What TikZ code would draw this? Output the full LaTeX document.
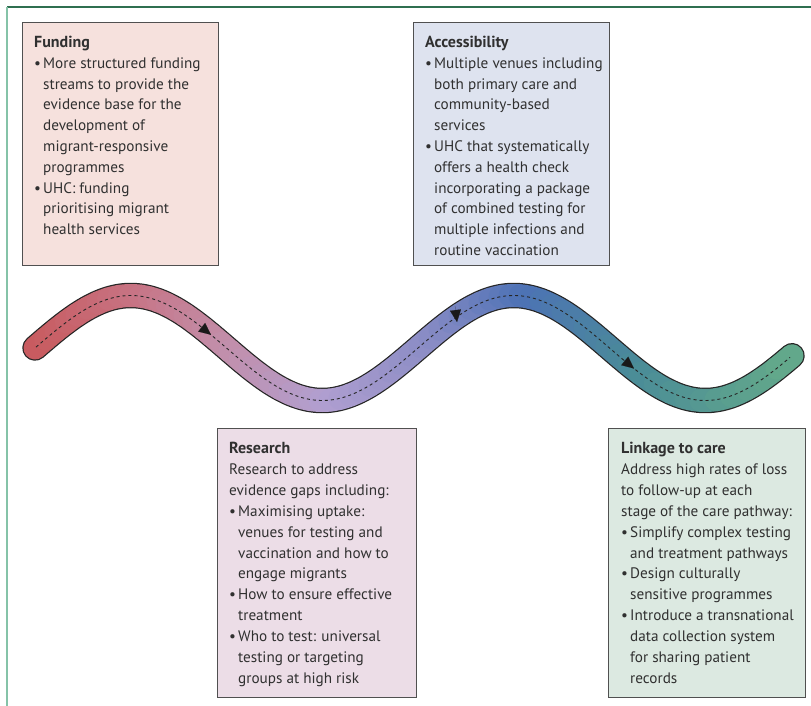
\documentclass[tikz,border=0pt]{standalone}
\usepackage{fontspec}
\setmainfont{PT Sans}
\usetikzlibrary{arrows.meta}

\definecolor{fundfill}{HTML}{F6E1DD}
\definecolor{accfill}{HTML}{DEE3EF}
\definecolor{resfill}{HTML}{ECDDE7}
\definecolor{linkfill}{HTML}{DCE9E1}
\definecolor{boxline}{HTML}{505050}
\definecolor{textgray}{HTML}{303030}
\definecolor{topgreen}{HTML}{2F6F50}
\definecolor{sidegreen}{HTML}{85C3A8}
\definecolor{wa}{HTML}{C85A5E}
\definecolor{wb}{HTML}{C77383}
\definecolor{wc}{HTML}{C28EAA}
\definecolor{wd}{HTML}{B19FD0}
\definecolor{we}{HTML}{8C8DC6}
\definecolor{wf}{HTML}{4D72B5}
\definecolor{wg}{HTML}{4A8B98}
\definecolor{wh}{HTML}{63A98A}

\newcommand{\bl}{\makebox[9pt][l]{\textbullet}}
\newcommand{\hg}{\hspace*{9pt}}
\newcommand{\ttl}[1]{{\fontsize{16}{20.8}\selectfont\textbf{#1}}}

\tikzset{
	panel/.style={draw=boxline, line width=1.4pt, anchor=north west, inner sep=0pt},
	paneltext/.style={anchor=north west, align=left, inner sep=0pt, text=textgray, font=\fontsize{15.2}{20.8}\selectfont},
	flowtip/.style={-{Triangle[length=12pt,width=11pt]}, line width=0.1pt, black!90},
	declare function={wy(\x)=348-52.5*sin(0.939948*(\x-35));}
}

\begin{document}
\begin{tikzpicture}[x=1pt,y=-1pt]
	\useasboundingbox (0,0) rectangle (811,706);

	\draw[topgreen, line width=1.8pt] (7,7) -- (811,7);
	\draw[sidegreen, line width=1.8pt] (7,7) -- (7,706);

	\node[panel, fill=fundfill, minimum width=196pt, minimum height=243pt] (funding) at (22,22) {};
	\node[panel, fill=accfill, minimum width=196pt, minimum height=243pt] (access) at (413,22) {};
	\node[panel, fill=resfill, minimum width=199pt, minimum height=269pt] (research) at (217,428) {};
	\node[panel, fill=linkfill, minimum width=197pt, minimum height=269pt] (linkage) at (608,428) {};

	\node[paneltext] (fundingtext) at ([shift={(12,14)}]funding.north west) {%
		\ttl{Funding}\\
		\bl More structured funding\\
		\hg streams to provide the\\
		\hg evidence base for the\\
		\hg development of\\
		\hg migrant-responsive\\
		\hg programmes\\
		\bl UHC: funding\\
		\hg prioritising migrant\\
		\hg health services};

	\node[paneltext] (accesstext) at ([shift={(12,14)}]access.north west) {%
		\ttl{Accessibility}\\
		\bl Multiple venues including\\
		\hg both primary care and\\
		\hg community-based\\
		\hg services\\
		\bl UHC that systematically\\
		\hg offers a health check\\
		\hg incorporating a package\\
		\hg of combined testing for\\
		\hg multiple infections and\\
		\hg routine vaccination};

	\node[paneltext, font=\fontsize{15.2}{20.9}\selectfont] (researchtext) at ([shift={(12,14)}]research.north west) {%
		\ttl{Research}\\
		Research to address\\
		evidence gaps including:\\
		\bl Maximising uptake:\\
		\hg venues for testing and\\
		\hg vaccination and how to\\
		\hg engage migrants\\
		\bl How to ensure effective\\
		\hg treatment\\
		\bl Who to test: universal\\
		\hg testing or targeting\\
		\hg groups at high risk};

	\node[paneltext, font=\fontsize{15.2}{20.9}\selectfont] (linkagetext) at ([shift={(13,14)}]linkage.north west) {%
		\ttl{Linkage to care}\\
		Address high rates of loss\\
		to follow-up at each\\
		stage of the care pathway:\\
		\bl Simplify complex testing\\
		\hg and treatment pathways\\
		\bl Design culturally\\
		\hg sensitive programmes\\
		\bl Introduce a transnational\\
		\hg data collection system\\
		\hg for sharing patient\\
		\hg records};

	\draw[black!85, line width=25.5pt, line cap=round] plot[domain=35:792, samples=160, smooth] (\x,{wy(\x)});
	\foreach \xa/\xb/\ca/\cb in {35/140/wa/wb, 140/230/wb/wc, 230/330/wc/wd, 330/430/wd/we, 430/530/we/wf, 530/640/wf/wg, 640/792/wg/wh}{
		\foreach \k in {0,...,9}{
			\pgfmathsetmacro\xs{\xa+(\xb-\xa)*\k/10}
			\pgfmathsetmacro\xe{\xa+(\xb-\xa)*(\k+1)/10}
			\pgfmathtruncatemacro\p{10*\k+5}
			\draw[\cb!\p!\ca, line width=23pt, line cap=round] plot[domain=\xs:\xe, samples=5, smooth] (\x,{wy(\x)});
		}
	}
	\draw[black!85, line width=0.9pt, dash pattern=on 3pt off 3pt] plot[domain=36:790, samples=160, smooth] (\x,{wy(\x)});

	\draw[flowtip] (199,{wy(199)}) -- (211,{wy(211)});
	\draw[flowtip] (455,306) -- (457,322);
	\draw[flowtip] (622,{wy(622)}) -- (634,{wy(634)});
\end{tikzpicture}
\end{document}
